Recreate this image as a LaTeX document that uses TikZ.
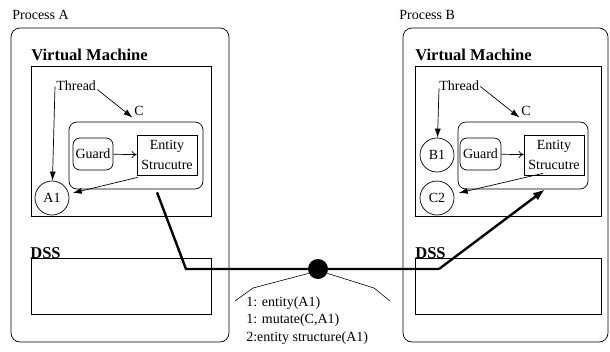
\documentclass[tikz,border=0pt]{standalone}
\usepackage{fontspec}
\setmainfont{Liberation Serif}
\usetikzlibrary{positioning,arrows.meta}

\begin{document}
\begin{tikzpicture}[x=1pt,y=-1pt,line width=0.7pt,
    every node/.style={font=\fontsize{14}{17.5}\selectfont},
    procbox/.style={draw, rounded corners=9pt, inner sep=0pt},
    areabox/.style={draw, inner sep=0pt},
    objbox/.style={draw, rounded corners=8pt, inner sep=0pt},
    guardbox/.style={draw, rounded corners=7pt, minimum height=32pt, inner sep=0pt},
    entitybox/.style={draw, minimum width=60pt, minimum height=40pt, inner sep=0pt, align=center},
    refnode/.style={draw, circle, minimum size=34pt, inner sep=0pt},
    vmlabel/.style={font=\fontsize{16.5}{18}\selectfont\bfseries, inner sep=0pt, anchor=base west},
    plainlabel/.style={inner sep=0pt, anchor=base west},
    ptr/.style={-{Latex[length=9pt,width=6pt]}, line width=0.7pt},
    openptr/.style={-{To[length=5pt,width=7pt]}, line width=0.7pt},
    msgline/.style={line width=2.4pt},
  ]
  \useasboundingbox (0,0) rectangle (610,351);

  % process A
  \node[plainlabel] (procA) at (12,19) {Process A};
  \node[procbox, minimum width=218pt, minimum height=314pt] (boxA) at (120,185) {};
  \node[vmlabel] (vmA) at (31,60) {Virtual Machine};
  \node[areabox, minimum width=180pt, minimum height=150pt] (vmboxA) at (121,141) {};
  \node[objbox, minimum width=134pt, minimum height=67pt] (cboxA) at (136,155.5) {};
  \node[guardbox, minimum width=40pt] (guardA) at (93,154) {Guard};
  \node[entitybox] (entA) at (167,155) {Entity\\[2pt]Strucutre};
  \node[refnode] (a1) at (52,198) {A1};
  \node[plainlabel] (threadA) at (56,90) {Thread};
  \node[inner sep=1.5pt] (cA) at (139,111) {C};
  \node[vmlabel] (dssA) at (30,258) {DSS};
  \node[areabox, minimum width=180pt, minimum height=56pt] (dssboxA) at (121,286) {};

  \draw[ptr] ([xshift=-1pt,yshift=4pt]threadA.south west) -- (a1);
  \draw[ptr] ([xshift=1pt,yshift=1pt]threadA.south east) -- (cA.south west);
  \draw[openptr] (guardA) -- (entA);
  \draw[ptr, shorten >=4pt] ([xshift=1pt,yshift=-2pt]entA.south west) -- (a1);

  % process B
  \node[plainlabel] (procB) at (399,19) {Process B};
  \node[procbox, minimum width=205pt, minimum height=314pt] (boxB) at (505.5,185) {};
  \node[vmlabel] (vmB) at (415,60) {Virtual Machine};
  \node[areabox, minimum width=186pt, minimum height=150pt] (vmboxB) at (508,141) {};
  \node[objbox, minimum width=130pt, minimum height=67pt] (cboxB) at (523,155.5) {};
  \node[guardbox, minimum width=41pt] (guardB) at (480.5,154) {Guard};
  \node[entitybox] (entB) at (554,155) {Entity\\[2pt]Strucutre};
  \node[refnode] (b1) at (437,155) {B1};
  \node[refnode] (c2) at (437,198) {C2};
  \node[plainlabel] (threadB) at (439,90) {Thread};
  \node[inner sep=1.5pt] (cB) at (526,111) {C};
  \node[vmlabel] (dssB) at (415,258) {DSS};
  \node[areabox, minimum width=186pt, minimum height=56pt] (dssboxB) at (508,286) {};

  \draw[ptr] ([yshift=2pt]threadB.south west) -- (b1);
  \draw[ptr] ([xshift=1pt,yshift=4pt]threadB.south east) -- (cB.south west);
  \draw[openptr] (guardB) -- (entB);
  \draw[ptr, shorten >=5pt] ([xshift=-11pt,yshift=2pt]entB.south) -- (c2);

  % messages between the two processes
  \node[circle, fill, minimum size=20pt, inner sep=0pt] (hub) at (318,269) {};
  \coordinate (startA) at ([xshift=21pt,yshift=-3pt]cboxA.south);
  \coordinate (bendA) at (186,269);
  \coordinate (bendB) at (439,269);
  \coordinate (endB) at ([xshift=22pt]cboxB.south);
  \draw[msgline] (startA) -- (bendA) -- (bendB);
  \draw[msgline, -{Latex[length=12pt,width=9pt]}] (bendB) -- (endB);

  \coordinate (tailL) at (235,301);
  \coordinate (tailR) at (390,301);
  \draw[line width=0.6pt] (hub.205) -- (253,288) -- (tailL);
  \draw[line width=0.6pt] (hub.335) -- (374,288) -- (tailR);
  \node[inner sep=0pt, anchor=north west, align=left] (msgs) at (246,296)
    {1: entity(A1)\\1: mutate(C,A1)\\2:entity structure(A1)};
\end{tikzpicture}
\end{document}
